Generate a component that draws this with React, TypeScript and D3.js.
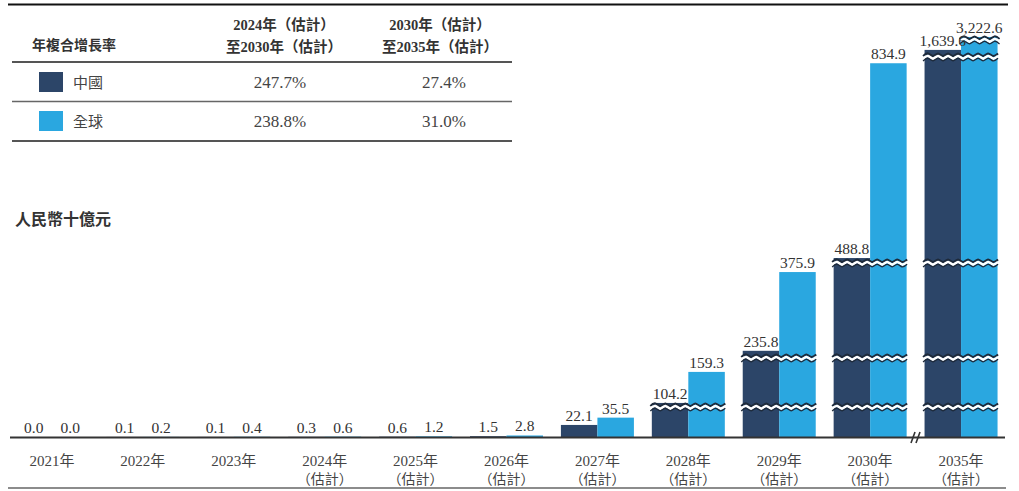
import * as d3 from "d3";

// categories and values
const years = ["2021年", "2022年", "2023年", "2024年", "2025年", "2026年", "2027年", "2028年", "2029年", "2030年", "2035年"];
const estimated = [false, false, false, true, true, true, true, true, true, true, true];
const chinaValues = [0.0, 0.1, 0.1, 0.3, 0.6, 1.5, 22.1, 104.2, 235.8, 488.8, 1639.6];
const globalValues = [0.0, 0.2, 0.4, 0.6, 1.2, 2.8, 35.5, 159.3, 375.9, 834.9, 3222.6];

const seriesNames = ["中國", "全球"];
const cagrTitle = "年複合增長率";
const cagrHeaders = [
  ["2024年（估計）", "至2030年（估計）"],
  ["2030年（估計）", "至2035年（估計）"],
];
const cagrChina = ["247.7%", "27.4%"];
const cagrGlobal = ["238.8%", "31.0%"];
const unitLabel = "人民幣十億元";

// values where the axis is broken (lower edge of each skipped range)
const breakValues = [55, 184, 392, 846, 1660];

const W = 1019;
const H = 491;
const DARK = "#2c4568";
const LIGHT = "#2aa7e0";
const SERIF = "'Liberation Serif', 'Times New Roman', 'Noto Sans CJK TC', serif";
const SANS = "'Noto Sans CJK TC', 'Noto Sans', sans-serif";

const seriesValues = [chinaValues, globalValues];
const colors = [DARK, LIGHT];

export default function App() {
  const x = d3.scaleBand<string>().domain(years).range([6.5, 1006.5]).paddingInner(0.197).paddingOuter(0.0985);
  const x1 = d3.scaleBand<number>().domain([0, 1]).range([0, x.bandwidth()]).padding(0);

  // piecewise (broken) value axis
  const y = d3
    .scaleLinear()
    .domain([0, 55, 97, 184, 223, 392, 480, 846, 1625, 1660, 3215, 3240])
    .range([437, 407, 407, 358, 358, 263, 263, 57, 57, 40, 40, 30]);

  const fmt = d3.format(",.1f");

  // decorative wavy break line
  const wave = (x0: number, x1v: number, yy: number) => {
    const pts: [number, number][] = [];
    const step = 5;
    let k = 0;
    for (let xx = x0; xx <= x1v + 0.1; xx += step, k++) pts.push([xx, yy + (k % 2 === 0 ? 1.3 : -1.3)]);
    return d3.line().curve(d3.curveNatural)(pts) || "";
  };

  return (
    <svg width={W} height={H} style={{ position: "absolute", left: 0, top: 0, background: "#fff" }}>
      {/* top & bottom rules */}
      <line x1={8} x2={1008} y1={4.5} y2={4.5} stroke="#111" strokeWidth={2} />
      <line x1={8} x2={1006} y1={488} y2={488} stroke="#666" strokeWidth={1.5} />

      {/* CAGR table */}
      <g>
        <text x={32} y={50} fontFamily={SANS} fontWeight="bold" fontSize={14} fill="#333">{cagrTitle}</text>
        {cagrHeaders.map((lines, i) => (
          <g key={i}>
            {lines.map((t, j) => (
              <text key={j} x={i === 0 ? 284 : 440} y={30 + j * 22} textAnchor="middle" fontFamily={SERIF} fontWeight="bold" fontSize={14.5} fill="#333">{t}</text>
            ))}
          </g>
        ))}
        <line x1={12} x2={512} y1={62} y2={62} stroke="#555" strokeWidth={2} />
        <line x1={12} x2={512} y1={101.5} y2={101.5} stroke="#666" strokeWidth={1.5} />
        <line x1={12} x2={512} y1={141} y2={141} stroke="#555" strokeWidth={2} />
        {[cagrChina, cagrGlobal].map((row, i) => (
          <g key={i} transform={`translate(0,${i === 0 ? 82 : 121})`}>
            <rect x={39} y={-10} width={24} height={20} fill={colors[i]} />
            <text x={73} y={6} fontFamily={SANS} fontSize={15} fill="#444">{seriesNames[i]}</text>
            <text x={280} y={6} textAnchor="middle" fontFamily={SERIF} fontSize={17} fill="#444">{row[0]}</text>
            <text x={444} y={6} textAnchor="middle" fontFamily={SERIF} fontSize={17} fill="#444">{row[1]}</text>
          </g>
        ))}
      </g>

      <text x={15} y={225} fontFamily={SANS} fontWeight="bold" fontSize={16} fill="#333">{unitLabel}</text>

      {/* bars */}
      {years.map((yr, i) => (
        <g key={yr} transform={`translate(${x(yr)},0)`}>
          {seriesValues.map((vals, s) => {
            const v = vals[i];
            const top = y(v);
            return (
              <rect key={s} x={x1(s)} y={top} width={x1.bandwidth()} height={y(0) - top} fill={colors[s]} />
            );
          })}
          {/* break marks */}
          {breakValues.map((b, bi) => {
            const crossing = [0, 1].filter((s) => seriesValues[s][i] > b);
            if (!crossing.length) return null;
            const left = (x1(crossing[0]) as number) - 1.5;
            const right = (x1(crossing[crossing.length - 1]) as number) + x1.bandwidth() + 2.5;
            const yy = y(b);
            return (
              <g key={bi} fill="none">
                <path d={wave(left, right, yy - 2.3)} stroke="#1e2a3a" strokeWidth={2} />
                <path d={wave(left, right, yy + 0.3)} stroke="#fff" strokeWidth={2.6} />
                <path d={wave(left, right, yy + 2.6)} stroke="#1e2a3a" strokeWidth={1.3} />
              </g>
            );
          })}
          {/* value labels */}
          {seriesValues.map((vals, s) => {
            const v = vals[i];
            return (
              <text key={s} x={(x1(s) as number) + x1.bandwidth() / 2} y={y(v) - 4} textAnchor="middle" fontFamily={SERIF} fontSize={15.5} fill="#333">
                {fmt(v)}
              </text>
            );
          })}
          {/* category labels */}
          <text x={x.bandwidth() / 2} y={466} textAnchor="middle" fontFamily={SERIF} fontSize={15} fill="#444">{yr}</text>
          {estimated[i] && (
            <text x={x.bandwidth() / 2} y={484} textAnchor="middle" fontFamily={SERIF} fontSize={14} fill="#444">（估計）</text>
          )}
        </g>
      ))}

      {/* x axis with break marks */}
      <line x1={10} x2={1005} y1={437.5} y2={437.5} stroke="#333" strokeWidth={2} />
      <g stroke="#333" strokeWidth={1.6}>
        <line x1={911} x2={915} y1={443} y2={432} />
        <line x1={916} x2={920} y1={443} y2={432} />
      </g>
    </svg>
  );
}
